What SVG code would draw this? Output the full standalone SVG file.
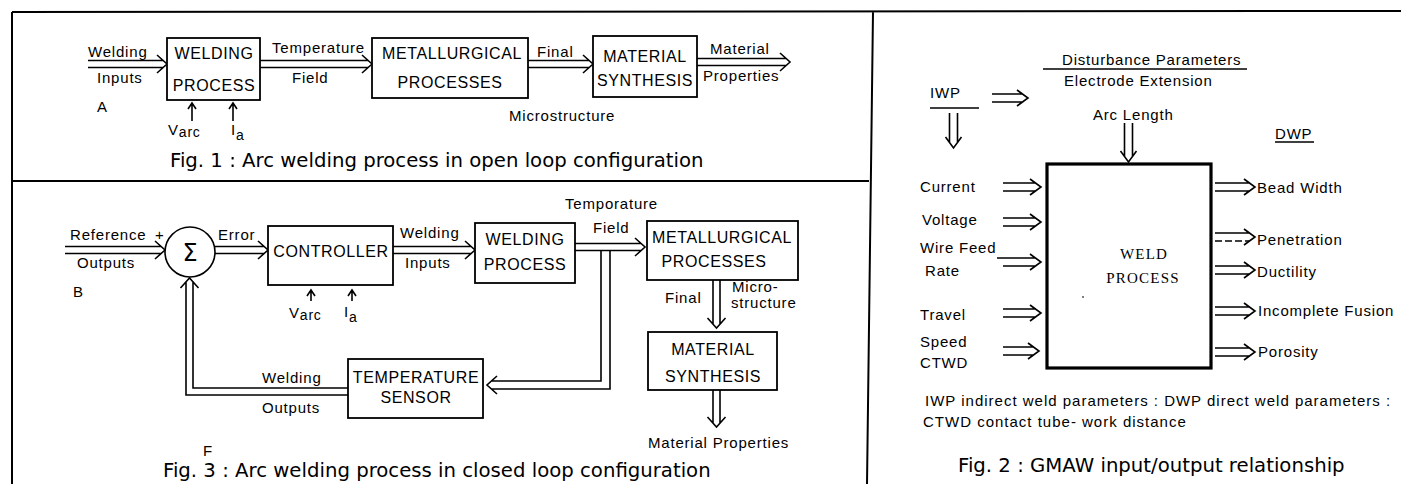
<svg xmlns="http://www.w3.org/2000/svg" width="1401" height="484" viewBox="0 0 1401 484">
<style>
.frame{stroke:#000;stroke-width:2;fill:none}
.ln{stroke:#000;stroke-width:1.6;fill:none;stroke-linejoin:miter}
.box{fill:#fff;stroke:#000;stroke-width:1.8}
.tbox{fill:#fff;stroke:#000;stroke-width:3.2}
text{fill:#000}
.lbl{font-family:"Liberation Sans",Arial,sans-serif;font-size:15px;letter-spacing:0.8px}
.bx{font-family:"Liberation Sans",Arial,sans-serif;font-size:16px;letter-spacing:0.6px;text-anchor:middle}
.cap{font-family:"DejaVu Sans",Verdana,sans-serif;font-size:19.7px}
.ser{font-family:"Liberation Serif","Times New Roman",serif;font-size:15px;letter-spacing:1.2px;text-anchor:middle}
.fn{font-family:"Liberation Sans",Arial,sans-serif;font-size:15px;letter-spacing:1px}
</style>

<g id="frame">
<path class="frame" d="M12 12 L1401 11 M12 12 V484 M12 181 H869 M873 12 L867 484"/>
</g>

<g id="connectors">
<!-- Fig 1 -->
<path class="ln" d="M88 60.5 H163 M88 67.5 H163 M157 55 L167 64 L157 73"/>
<path class="ln" d="M260 60.5 H368 M260 67.5 H368 M362 55 L372 64 L362 73"/>
<path class="ln" d="M528 60.5 H589 M528 67.5 H589 M583 55 L593 64 L583 73"/>
<path class="ln" d="M697 58.5 H786 M697 65.5 H786 M780 53 L790 62 L780 71"/>
<path class="ln" d="M192 121 V104 M188 109 L192 103 L196 109"/>
<path class="ln" d="M233 121 V104 M229 109 L233 103 L237 109"/>
<!-- Fig 3 -->
<path class="ln" d="M65 246.5 H161 M65 253.5 H161 M155 241 L165 250 L155 259"/>
<path class="ln" d="M215 246.5 H264 M215 253.5 H264 M258 241 L268 250 L258 259"/>
<path class="ln" d="M393 246.5 H471 M393 253.5 H471 M465 241 L475 250 L465 259"/>
<path class="ln" d="M575 243.5 H641 M575 250.5 H641 M635 238 L645 247 L635 256"/>
<path class="ln" d="M601 250.5 V381 H491 M610 250.5 V389 H491 M497 376 L487 385 L497 394"/>
<path class="ln" d="M348 388 H193 V282 M348 395 H186 V282 M180.5 288 L189.5 278 L198.5 288"/>
<path class="ln" d="M311 301 V291 M307 296 L311 290 L315 296"/>
<path class="ln" d="M352 301 V291 M348 296 L352 290 L356 296"/>
<path class="ln" d="M713 280 V324 M720 280 V324 M707.5 318 L716.5 328 L725.5 318"/>
<path class="ln" d="M713 390 V423 M720 390 V423 M707.5 417 L716.5 427 L725.5 417"/>
<!-- Fig 2 -->
<path class="ln" d="M992 94 H1023 M992 102 H1023 M1017 90 L1028 98 L1017 106"/>
<path class="ln" d="M949.5 113 V143 M957.5 113 V143 M945.5 137 L953.5 148 L961.5 137"/>
<path class="ln" d="M1124.5 123 V157 M1132.5 123 V157 M1120.5 151 L1128.5 162 L1136.5 151"/>
<path class="ln" d="M1003 183 H1035 M1003 191 H1035 M1030 179 L1041 187 L1030 195"/>
<path class="ln" d="M1003 218 H1035 M1003 226 H1035 M1030 214 L1041 222 L1030 230"/>
<path class="ln" d="M997 258 H1035 M1003 266 H1035 M1030 254 L1041 262 L1030 270"/>
<path class="ln" d="M1003 309 H1035 M1003 317 H1035 M1030 305 L1041 313 L1030 321"/>
<path class="ln" d="M1003 347 H1034 M1003 355 H1034 M1028 343 L1039 351 L1028 359"/>
<path class="ln" d="M1215 183 H1249 M1215 191 H1249 M1244 179 L1255 187 L1244 195"/>
<path class="ln" d="M1215 233 H1249 M1244 229 L1255 237 L1244 245"/>
<path class="ln" d="M1215 241 H1249" stroke-dasharray="7 3"/>
<path class="ln" d="M1215 266 H1249 M1215 274 H1249 M1244 262 L1255 270 L1244 278"/>
<path class="ln" d="M1215 307 H1249 M1215 315 H1249 M1244 303 L1255 311 L1244 319"/>
<path class="ln" d="M1215 348 H1249 M1215 356 H1249 M1244 344 L1255 352 L1244 360"/>
<path class="ln" d="M1043 69 H1247 M930 108 H979 M1275 142 H1314"/>
</g>

<!-- Fig 1 nodes -->
<g id="welding-process-1">
<rect class="box" x="167" y="38" width="93" height="62"/>
<text class="bx" x="214" y="59">WELDING</text>
<text class="bx" x="214" y="91">PROCESS</text>
</g>
<g id="metallurgical-1">
<rect class="box" x="372" y="38" width="156" height="60"/>
<text class="bx" x="452" y="59">METALLURGICAL</text>
<text class="bx" x="450" y="88">PROCESSES</text>
</g>
<g id="material-synthesis-1">
<rect class="box" x="593" y="36" width="104" height="61"/>
<text class="bx" x="645" y="62">MATERIAL</text>
<text class="bx" x="645" y="86">SYNTHESIS</text>
</g>
<g id="fig1-labels">
<text class="lbl" x="88" y="57">Welding</text>
<text class="lbl" x="97" y="83">Inputs</text>
<text class="lbl" x="97" y="112">A</text>
<text class="lbl" x="168" y="135">V<tspan font-size="14" dy="2">arc</tspan></text>
<text class="lbl" x="231" y="135">I<tspan font-size="14" dy="5">a</tspan></text>
<text class="lbl" x="272" y="53">Temperature</text>
<text class="lbl" x="292" y="83">Field</text>
<text class="lbl" x="537" y="57">Final</text>
<text class="lbl" x="710" y="54">Material</text>
<text class="lbl" x="703" y="81">Properties</text>
<text class="lbl" x="509" y="121">Microstructure</text>
<text class="cap" x="170" y="167">Fig. 1 : Arc welding process in open loop configuration</text>
</g>

<!-- Fig 3 nodes -->
<g id="summer">
<circle cx="190" cy="252" r="25" fill="#fff" stroke="#000" stroke-width="1.6"/>
<text x="190" y="261" font-family="DejaVu Sans,sans-serif" font-size="24" text-anchor="middle">Σ</text>
</g>
<g id="controller">
<rect class="box" x="268" y="226" width="125" height="59"/>
<text class="bx" x="331" y="257">CONTROLLER</text>
</g>
<g id="welding-process-3">
<rect class="box" x="475" y="223" width="100" height="60"/>
<text class="bx" x="525" y="245">WELDING</text>
<text class="bx" x="525" y="270">PROCESS</text>
</g>
<g id="metallurgical-3">
<rect class="box" x="647" y="221" width="151" height="59"/>
<text class="bx" x="722" y="243">METALLURGICAL</text>
<text class="bx" x="714" y="267">PROCESSES</text>
</g>
<g id="temperature-sensor">
<rect class="box" x="348" y="359" width="135" height="59"/>
<text class="bx" x="416" y="383">TEMPERATURE</text>
<text class="bx" x="416" y="403">SENSOR</text>
</g>
<g id="material-synthesis-3">
<rect class="box" x="648" y="332" width="129" height="58"/>
<text class="bx" x="713" y="355">MATERIAL</text>
<text class="bx" x="713" y="382">SYNTHESIS</text>
</g>
<g id="fig3-labels">
<text class="lbl" x="70" y="240">Reference</text>
<text class="lbl" x="155" y="240" font-size="11">+</text>
<text class="lbl" x="77" y="268">Outputs</text>
<text class="lbl" x="73" y="297">B</text>
<text class="lbl" x="218" y="240">Error</text>
<text class="lbl" x="289" y="318">V<tspan font-size="14" dy="2">arc</tspan></text>
<text class="lbl" x="344" y="317">I<tspan font-size="14" dy="5">a</tspan></text>
<text class="lbl" x="400" y="238">Welding</text>
<text class="lbl" x="405" y="268">Inputs</text>
<text class="lbl" x="565" y="209">Temporature</text>
<text class="lbl" x="593" y="233">Field</text>
<text class="lbl" x="665" y="303">Final</text>
<text class="lbl" x="732" y="292" font-size="13">Micro-</text>
<text class="lbl" x="731" y="308" font-size="13">structure</text>
<text class="lbl" x="262" y="383">Welding</text>
<text class="lbl" x="262" y="413">Outputs</text>
<text class="lbl" x="648" y="448">Material Properties</text>
<text class="lbl" x="203" y="456" font-size="9">F</text>
<text class="cap" x="163" y="477">Fig. 3 : Arc welding process in closed loop configuration</text>
</g>

<!-- Fig 2 nodes -->
<g id="weld-process">
<rect class="tbox" x="1047" y="164" width="164" height="204"/>
<text class="ser" x="1144" y="259">WELD</text>
<text class="ser" x="1143" y="283">PROCESS</text>
<circle cx="1083" cy="297" r="1" fill="#555"/>
</g>
<g id="fig2-labels">
<text class="lbl" x="1062" y="65">Disturbance Parameters</text>
<text class="lbl" x="1064" y="86">Electrode Extension</text>
<text class="lbl" x="930" y="98">IWP</text>
<text class="lbl" x="1093" y="120">Arc Length</text>
<text class="lbl" x="1275" y="139">DWP</text>
<text class="lbl" x="920" y="192">Current</text>
<text class="lbl" x="922" y="225">Voltage</text>
<text class="lbl" x="920" y="253">Wire Feed</text>
<text class="lbl" x="925" y="276">Rate</text>
<text class="lbl" x="920" y="320">Travel</text>
<text class="lbl" x="920" y="347">Speed</text>
<text class="lbl" x="920" y="368">CTWD</text>
<text class="lbl" x="1257" y="193">Bead Width</text>
<text class="lbl" x="1257" y="245">Penetration</text>
<text class="lbl" x="1257" y="277">Ductility</text>
<text class="lbl" x="1258" y="316">Incomplete Fusion</text>
<text class="lbl" x="1258" y="357">Porosity</text>
<text class="fn" x="925" y="406">IWP indirect weld parameters : DWP direct weld parameters :</text>
<text class="fn" x="923" y="427">CTWD contact tube- work distance</text>
<text class="cap" x="958" y="472">Fig. 2 : GMAW input/output relationship</text>
</g>
</svg>
